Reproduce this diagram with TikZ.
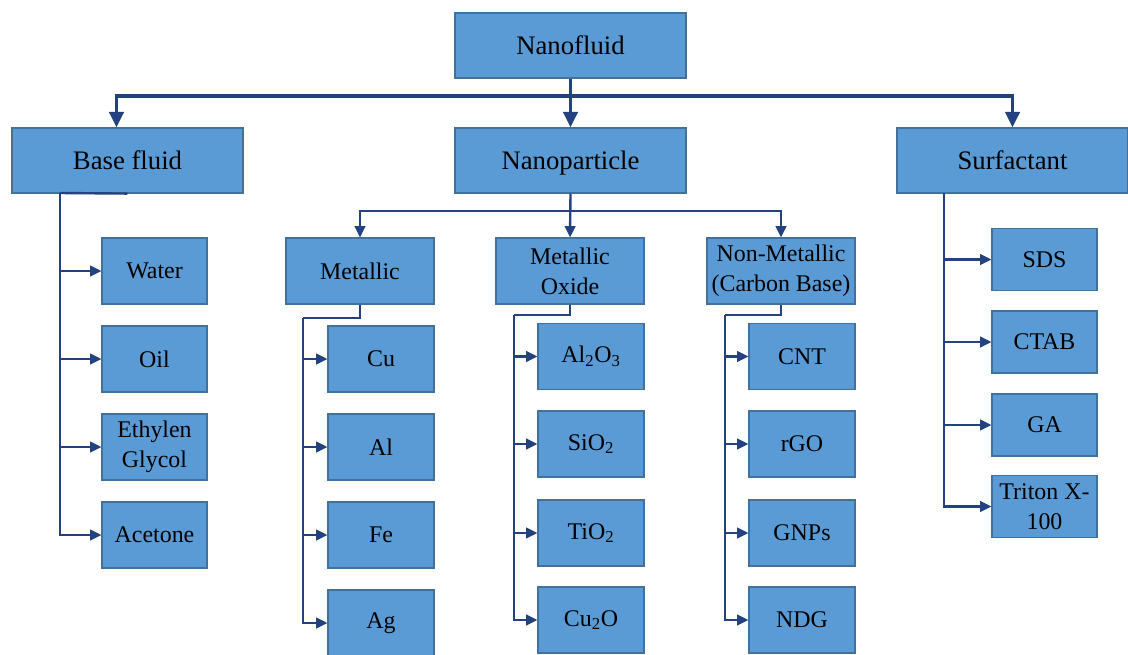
\documentclass[tikz,border=0pt]{standalone}
\usepackage{fontspec}
\setmainfont{Liberation Serif}
\usetikzlibrary{arrows.meta}

\definecolor{boxfill}{HTML}{5B9BD5}
\definecolor{boxline}{HTML}{41719C}
\definecolor{wire}{HTML}{23427F}

\tikzset{
  mainbox/.style={draw=boxline, fill=boxfill, line width=0.8pt, minimum width=5.775cm, minimum height=1.625cm, inner sep=1pt, text height=13.2pt, text depth=0pt, font=\fontsize{19}{23}\selectfont},
  groupbox/.style={draw=boxline, fill=boxfill, line width=0.8pt, minimum width=3.7cm, minimum height=1.65cm, inner sep=1pt, align=center, font=\fontsize{17}{21.3}\selectfont},
  itembox/.style={draw=boxline, fill=boxfill, line width=0.8pt, minimum width=2.65cm, minimum height=1.65cm, inner sep=1pt, align=center, font=\fontsize{17}{21.3}\selectfont},
  busline/.style={draw=wire, line width=2.8pt},
  busarrow/.style={busline, -{Triangle[length=11pt,width=10pt]}},
  subline/.style={draw=wire, line width=1.7pt},
  subarrow/.style={subline, -{Triangle[length=8pt,width=7.5pt]}}
}

\begin{document}
\begin{tikzpicture}[x=0.025cm, y=-0.025cm]
% frame of the picture, in pixels of the reference
\useasboundingbox (0,0) rectangle (1128,654);

% Top level
\node[mainbox] (nf) at (570.5, 45.5) {Nanofluid};
\node[mainbox] (bf) at (127.5, 160.5) {Base fluid};
\node[mainbox] (np) at (570.5, 160.5) {Nanoparticle};
\node[mainbox] (sf) at (1012.5, 160.5) {Surfactant};

% Nanoparticle groups
\node[groupbox] (ml) at (360, 271) {Metallic};
\node[groupbox] (mo) at (570, 271) {Metallic\\Oxide};
\node[groupbox] (nm) at (781, 271) {Non-Metallic\\(Carbon Base)};

% Base fluid items
\node[itembox, minimum width=2.625cm] (water) at (154.5, 271) {Water};
\node[itembox, minimum width=2.625cm] (oil) at (154.5, 359) {Oil};
\node[itembox, minimum width=2.625cm] (eg) at (154.5, 447) {Ethylen\\Glycol};
\node[itembox, minimum width=2.625cm] (acetone) at (154.5, 535) {Acetone};

% Metallic items
\node[itembox] (cu) at (381, 359) {Cu};
\node[itembox] (al) at (381, 447) {Al};
\node[itembox] (fe) at (381, 535) {Fe};
\node[itembox] (ag) at (381, 623) {Ag};

% Metallic oxide items
\node[itembox] (alo) at (591, 356.5) {Al\textsubscript{2}O\textsubscript{3}};
\node[itembox] (sio) at (591, 444) {SiO\textsubscript{2}};
\node[itembox] (tio) at (591, 533) {TiO\textsubscript{2}};
\node[itembox] (cuo) at (591, 620) {Cu\textsubscript{2}O};

% Carbon based items
\node[itembox] (cnt) at (802, 356.5) {CNT};
\node[itembox] (rgo) at (802, 444) {rGO};
\node[itembox] (gnp) at (802, 533) {GNPs};
\node[itembox] (ndg) at (802, 620) {NDG};

% Surfactant items
\node[itembox, minimum width=2.625cm, minimum height=1.55cm] (sds) at (1044.5, 259.5) {SDS};
\node[itembox, minimum width=2.625cm, minimum height=1.55cm] (ctab) at (1044.5, 342) {CTAB};
\node[itembox, minimum width=2.625cm, minimum height=1.55cm] (ga) at (1044.5, 425) {GA};
\node[itembox, minimum width=2.625cm, minimum height=1.55cm] (triton) at (1044.5, 506.5) {Triton X-\\100};

% Nanofluid bus
\coordinate (bus) at (570.5, 96);
\draw[busarrow] (nf.south) -- (np.north);
\draw[busarrow] (bus) -| ([xshift=-0.275cm]bf.north);
\draw[busarrow] (bus) -| (sf.north);

% Nanoparticle bus
\coordinate (npbus) at (570, 211);
\draw[subarrow] (np.south) -- (mo.north);
\draw[subarrow] (npbus) -| (ml.north);
\draw[subarrow] (npbus) -| (nm.north);

% Base fluid branch
\coordinate (bfk) at (60, 193);
\draw[subline] (bf.south) -- (bfk);
\draw[subarrow] (bfk) |- (water.west);
\draw[subarrow] (bfk) |- (oil.west);
\draw[subarrow] (bfk) |- (eg.west);
\draw[subarrow] (bfk) |- (acetone.west);

% Metallic branch
\coordinate (mlk) at (303, 318);
\draw[subline] (ml.south) |- (mlk);
\draw[subarrow] (mlk) |- (cu.west);
\draw[subarrow] (mlk) |- (al.west);
\draw[subarrow] (mlk) |- (fe.west);
\draw[subarrow] (mlk) |- (ag.west);

% Metallic oxide branch
\coordinate (mok) at (514, 315);
\draw[subline] (mo.south) |- (mok);
\draw[subarrow] (mok) |- (alo.west);
\draw[subarrow] (mok) |- (sio.west);
\draw[subarrow] (mok) |- (tio.west);
\draw[subarrow] (mok) |- (cuo.west);

% Carbon based branch
\coordinate (nmk) at (725, 315);
\draw[subline] (nm.south) |- (nmk);
\draw[subarrow] (nmk) |- (cnt.west);
\draw[subarrow] (nmk) |- (rgo.west);
\draw[subarrow] (nmk) |- (gnp.west);
\draw[subarrow] (nmk) |- (ndg.west);

% Surfactant branch
\coordinate (sfk) at (944, 193);
\draw[subarrow] (sfk) |- (sds.west);
\draw[subarrow] (sfk) |- (ctab.west);
\draw[subarrow] (sfk) |- (ga.west);
\draw[subarrow] (sfk) |- (triton.west);
\end{tikzpicture}
\end{document}
